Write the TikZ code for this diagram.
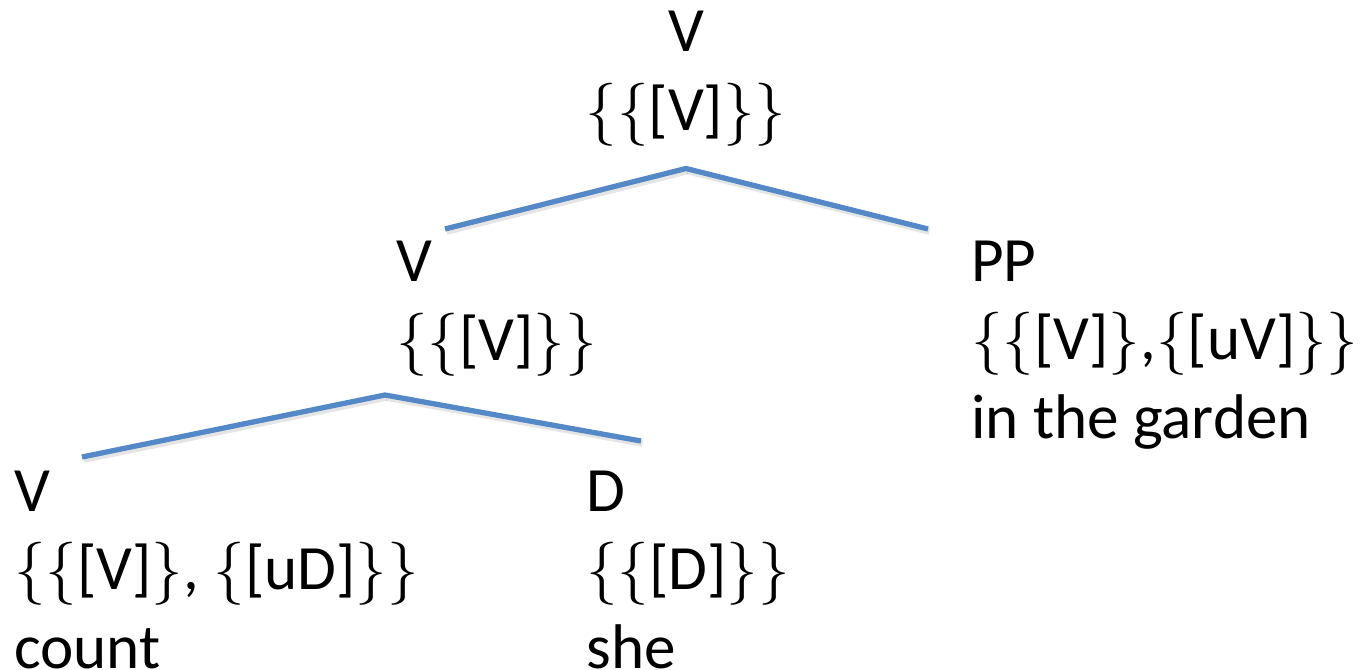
\documentclass[tikz,border=0pt]{standalone}
\usepackage{fontspec}
\setmainfont{Carlito}
\newfontfamily\bracefont{lmroman10-regular}[Extension=.otf]
\usepackage{tikz}
\usetikzlibrary{calc,positioning}
\definecolor{treeblue}{RGB}{84,136,198}
\newcommand{\obr}{{\bracefont\{}}
\newcommand{\cbr}{{\bracefont\}}}
\tikzset{
  tlabel/.style={inner sep=0pt, font=\fontsize{35.9}{44.4}\selectfont},
  tlabelL/.style={tlabel, align=left, anchor=base west},
  tlabelC/.style={tlabel, align=center, anchor=base},
  tbranch/.style={line width=3pt, treeblue},
  tshadow/.style={line width=3.8pt, black, opacity=0.10},
}

\begin{document}
\begin{tikzpicture}
  \useasboundingbox (0,0) rectangle (27.32,-13.38);
  % labels (anchored on the baseline of their last line)
  \node[tlabelC] (vroot) at (13.72,-2.60) {V\\\obr\obr[V]\cbr\cbr};
  \node[tlabelL] (vmid) at (7.92,-7.20) {V\\\obr\obr[V]\cbr\cbr};
  \node[tlabelL] (pp) at (19.42,-8.76) {PP\\\obr\obr[V]\cbr,\obr[uV]\cbr\cbr\\in the garden};
  \node[tlabelL] (vlow) at (0.28,-13.36) {V\\\obr\obr[V]\cbr, \obr[uD]\cbr\cbr\\count};
  \node[tlabelL] (dlow) at (11.72,-13.36) {D\\\obr\obr[D]\cbr\cbr\\she};
  % branch points
  \coordinate (rootapex) at (13.72,-3.37);
  \coordinate (rootL) at (8.90,-4.58);
  \coordinate (rootR) at (18.56,-4.58);
  \coordinate (midapex) at (7.70,-7.90);
  \coordinate (midL) at (1.64,-9.14);
  \coordinate (midR) at (12.82,-8.82);
  % branches
  \foreach \a/\b in {rootapex/rootL,rootapex/rootR,midapex/midL,midapex/midR}{
    \draw[tshadow] ($(\a)+(0.03,-0.05)$) -- ($(\b)+(0.03,-0.05)$);
  }
  \draw[tbranch] (rootL) -- (rootapex) -- (rootR);
  \draw[tbranch] (midL) -- (midapex) -- (midR);
\end{tikzpicture}
\end{document}
